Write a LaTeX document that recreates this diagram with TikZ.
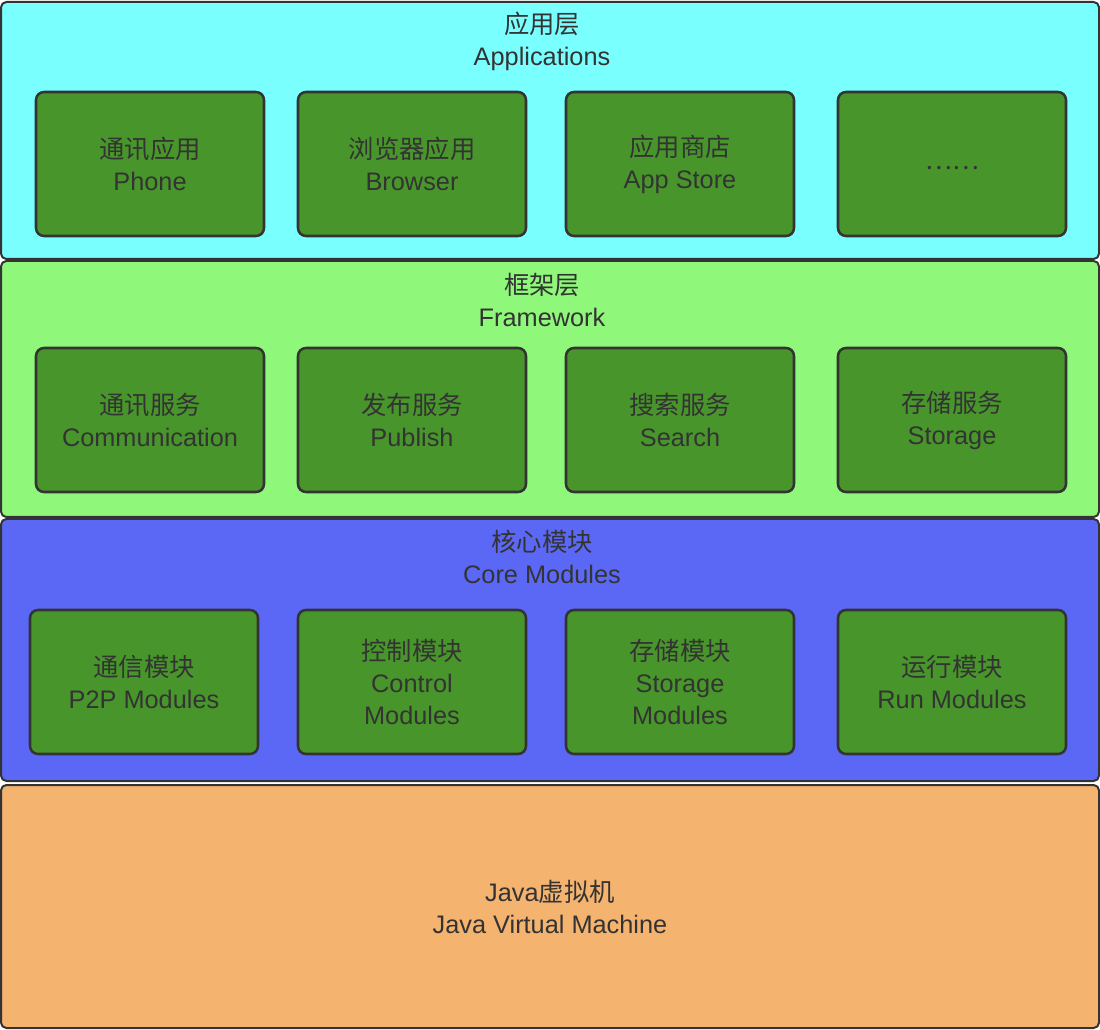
\documentclass[tikz,border=0pt]{standalone}
\usepackage{fontspec}
\setmainfont{Liberation Sans}
\newfontfamily\cjk{Noto Sans CJK SC}
\definecolor{appcol}{HTML}{7AFFFF}
\definecolor{frmcol}{HTML}{8FF87A}
\definecolor{corecol}{HTML}{5B68F6}
\definecolor{jvmcol}{HTML}{F4B36F}
\definecolor{boxcol}{HTML}{48962B}
\definecolor{edgecol}{HTML}{333333}
\begin{document}
\begin{tikzpicture}[x=0.75pt, y=-0.75pt, line join=round,
		font=\fontsize{19}{24}\selectfont, text=edgecol,
		layer/.style={draw=edgecol, line width=1.5pt, rounded corners=4pt, minimum width=823.5pt, inner sep=0pt},
		modbox/.style={draw=edgecol, fill=boxcol, line width=1.9pt, rounded corners=6pt, minimum width=171pt, minimum height=108pt, align=center, inner sep=0pt},
		title/.style={align=center}]
		\useasboundingbox (0,0) rectangle (1100,1030);
		% layers
		\node[layer, fill=appcol, minimum height=192.75pt] (app) at (550,130.5) {};
		\node[layer, fill=frmcol, minimum height=192pt] (frm) at (550,389) {};
		\node[layer, fill=corecol, minimum height=196.5pt] (core) at (550,650) {};
		\node[layer, fill=jvmcol, minimum height=182.25pt] (jvm) at (550,906.5) {};
		% layer titles
		\node[title] (apptitle) at (542,41) {{\cjk 应用层}\\Applications};
		\node[title] (frmtitle) at (542,300) {{\cjk 框架层}\\Framework};
		\node[title] (coretitle) at (542,557) {{\cjk 核心模块}\\Core Modules};
		\node[title] (jvmtitle) at (550,907) {Java{\cjk 虚拟机}\\Java Virtual Machine};
		% applications
		\node[modbox] (phone) at (150,164) {{\cjk 通讯应用}\\Phone};
		\node[modbox] (browser) at (412,164) {{\cjk 浏览器应用}\\Browser};
		\node[modbox] (store) at (680,164) {{\cjk 应用商店}\\App Store};
		\node[modbox] (more) at (952,164) {};
		\node (moretext) at (952,168) {{\cjk ……}};
		% framework
		\node[modbox] (comm) at (150,420) {{\cjk 通讯服务}\\Communication};
		\node[modbox] (publish) at (412,420) {{\cjk 发布服务}\\Publish};
		\node[modbox] (search) at (680,420) {{\cjk 搜索服务}\\Search};
		\node[modbox] (storage) at (952,420) {{\cjk 存储服务}\\Storage};
		% core modules
		\node[modbox] (ptp) at (144,682) {{\cjk 通信模块}\\P2P Modules};
		\node[modbox] (control) at (412,682) {{\cjk 控制模块}\\Control\\Modules};
		\node[modbox] (stormod) at (680,682) {{\cjk 存储模块}\\Storage\\Modules};
		\node[modbox] (run) at (952,682) {{\cjk 运行模块}\\Run Modules};
\end{tikzpicture}
\end{document}
